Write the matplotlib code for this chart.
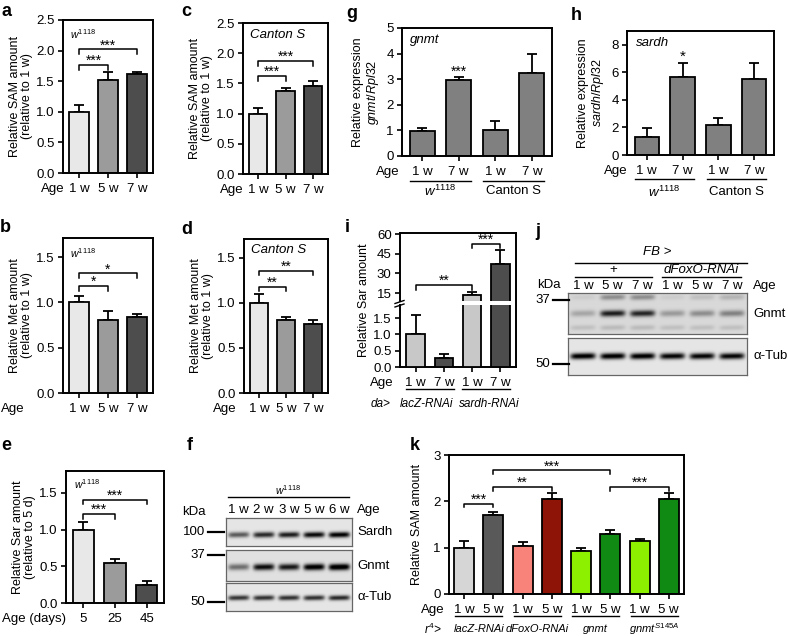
"""
Multi-panel figure: SAM / Met / Sar levels with age, qPCR and western blots
"""
import numpy as np
import matplotlib.pyplot as plt
from matplotlib.lines import Line2D
from matplotlib.ticker import FormatStrFormatter
from matplotlib import transforms

plt.rcParams['font.family'] = ['Liberation Sans', 'DejaVu Sans']
plt.rcParams['mathtext.fontset'] = 'custom'
plt.rcParams['mathtext.rm'] = 'Liberation Sans'
plt.rcParams['mathtext.it'] = 'Liberation Sans:italic'
plt.rcParams['mathtext.bf'] = 'Liberation Sans:bold'
plt.rcParams['font.size'] = 9
plt.rcParams['axes.linewidth'] = 1.4

# ---- data ----
age3 = ['1 w', '5 w', '7 w']
a_sam = [1.0, 1.52, 1.61]
a_err = [0.11, 0.13, 0.04]
c_sam = [1.0, 1.38, 1.46]
c_err = [0.10, 0.05, 0.08]
b_met = [1.0, 0.81, 0.84]
b_err = [0.07, 0.10, 0.03]
d_met = [1.0, 0.81, 0.77]
d_err = [0.10, 0.03, 0.04]
e_days = ['5', '25', '45']
e_sar = [1.0, 0.54, 0.25]
e_err = [0.10, 0.06, 0.05]

age4 = ['1 w', '7 w', '1 w', '7 w']
strains = [r'$w^{1118}$', 'Canton S']
g_gnmt = [0.98, 2.95, 1.0, 3.25]
g_err = [0.12, 0.13, 0.37, 0.72]
h_sardh = [1.28, 5.63, 2.17, 5.48]
h_err = [0.68, 1.07, 0.50, 1.20]

i_groups = ['lacZ-RNAi', 'sardh-RNAi']
i_sar = [1.02, 0.27, 13.5, 37.0]
i_err = [0.57, 0.13, 2.0, 10.5]

k_age = ['1 w', '5 w'] * 4
k_groups = ['lacZ-RNAi', 'dFoxO-RNAi', 'gnmt', r'$\mathit{gnmt}^{\mathit{S145A}}$']
k_sam = [1.0, 1.70, 1.03, 2.04, 0.93, 1.30, 1.14, 2.04]
k_err = [0.15, 0.06, 0.09, 0.13, 0.06, 0.08, 0.05, 0.13]
k_colors = ['#d6d6d6', '#595959', '#f7837a', '#8e1408', '#8cf000', '#108a12', '#8cf000', '#108a12']

# western blots (band intensity per lane)
f_lanes = ['1 w', '2 w', '3 w', '5 w', '6 w']
f_sardh = [0.55, 0.75, 0.8, 0.88, 0.92]
f_gnmt = [0.45, 0.85, 0.8, 0.95, 1.0]
f_tub = [0.7, 0.72, 0.72, 0.72, 0.75]
j_lanes = ['1 w', '5 w', '7 w', '1 w', '5 w', '7 w']
j_gnmt = [0.2, 0.75, 0.72, 0.25, 0.3, 0.35]
j_gnmt_upper = [0.05, 0.3, 0.3, 0.05, 0.1, 0.15]
j_gnmt_lower = [0.1, 0.12, 0.12, 0.1, 0.1, 0.1]
j_tub = [0.95, 0.95, 0.95, 0.9, 0.9, 0.9]

light, mid, dark = '#e8e8e8', '#9b9b9b', '#4d4d4d'

W, H = 788, 636
fig = plt.figure(figsize=(W / 100, H / 100), dpi=100)
TL, TP = 3.5, 3.5  # tick length / pad (points)
FS = 9.5           # tick label size


def px_axes(l, t, r, b):
    return fig.add_axes([l / W, 1 - b / H, (r - l) / W, (b - t) / H])


def ftext(x, y, s, **kw):
    kw.setdefault('fontsize', FS)
    return fig.text(x / W, 1 - y / H, s, **kw)


def fline(x1, x2, y, lw=1.0, color='k'):
    fig.add_artist(Line2D([x1 / W, x2 / W], [1 - y / H, 1 - y / H], color=color, lw=lw))


def style_axes(ax):
    ax.tick_params(direction='out', length=TL, width=1.2, pad=TP, labelsize=FS)
    ax.tick_params(axis='y', pad=2.5)


def age_text(ax, x_px, s, ha='right'):
    # aligned with the x tick labels of ax
    trans = transforms.blended_transform_factory(fig.transFigure, ax.transAxes)
    trans = transforms.offset_copy(trans, fig=fig, y=-(TL + TP), units='points')
    ax.text(x_px / W, 0, s, transform=trans, ha=ha, va='top', fontsize=FS, clip_on=False)


def bars(ax, vals, errs, colors, width=0.68):
    x = np.arange(1, len(vals) + 1)
    ax.bar(x, vals, width=width, color=colors, edgecolor='k', linewidth=1.3, zorder=2)
    ax.errorbar(x, vals, yerr=[np.zeros(len(vals)), errs], fmt='none', ecolor='k',
                elinewidth=1.3, capsize=3.5, capthick=1.3, zorder=1)
    return x


def bar_panel(rect, vals, errs, colors, ylim, yticks, fmt='%.1f', xlabels=None, xpad=0.55):
    ax = px_axes(*rect)
    x = bars(ax, vals, errs, colors)
    ax.set_xlim(1 - xpad, len(vals) + xpad)
    ax.set_ylim(*ylim)
    ax.set_yticks(yticks)
    ax.yaxis.set_major_formatter(FormatStrFormatter(fmt))
    ax.set_xticks(x)
    ax.set_xticklabels(xlabels)
    style_axes(ax)
    return ax


def ylab(ax, s, pad=2):
    ax.set_ylabel(s, labelpad=pad, fontsize=9, linespacing=1.05)


def bracket(ax, x1, x2, y, h, s, fs=10):
    ax.plot([x1, x1, x2, x2], [y - h, y, y, y - h], color='k', lw=1.1, clip_on=False)
    ax.text((x1 + x2) / 2, y, s, ha='center', va='baseline', fontsize=fs)


def group_lines(ax, pairs, y_px, labels, ly_px, rect, span=0.33, fs=FS, style='normal', shifts=None):
    h = rect[3] - rect[1]
    tr = ax.get_xaxis_transform()
    shifts = shifts or [0] * len(pairs)
    for (x1, x2), lab, sh in zip(pairs, labels, shifts):
        ax.plot([x1 - span, x2 + span], [-(y_px - rect[3]) / h] * 2, color='k', lw=1.0,
                transform=tr, clip_on=False)
        ax.text((x1 + x2) / 2 + sh, -(ly_px - rect[3]) / h, lab, transform=tr, ha='center',
                va='center', fontsize=fs, style=style, clip_on=False)


def blot(rect, bands, bg=0.9):
    l, t, r, b = rect
    ax = px_axes(l, t, r, b)
    w, h = r - l, b - t
    X, Y = np.meshgrid(np.linspace(0, w, w * 3), np.linspace(0, h, h * 3))
    img = np.full(X.shape, bg)
    for frac, sig, vals in bands:
        step = w / len(vals)
        for i, v in enumerate(vals):
            cx = step * (i + 0.5)
            prof = np.exp(-((X - cx) / (step * 0.42)) ** 6)
            img -= v * prof * np.exp(-0.5 * ((Y - frac * h + 0.02 * (X - cx)) / sig) ** 2)
    ax.imshow(np.clip(img, 0, 1), cmap='gray', vmin=0, vmax=1, aspect='auto',
              extent=(0, w, h, 0), interpolation='bilinear')
    ax.set_xticks([])
    ax.set_yticks([])
    for s in ax.spines.values():
        s.set_color('#666666')
        s.set_linewidth(0.9)
    return ax


def marker(x_right, y, s):
    ftext(x_right - 3, y, s, ha='right', va='center')
    fline(x_right, x_right + 16, y, lw=1.6)


# ---- panel a ----
rect = (63, 20, 153, 173)
ax = bar_panel(rect, a_sam, a_err, [light, mid, dark], (0, 2.5), np.arange(0, 2.6, 0.5), xlabels=age3)
ylab(ax, 'Relative SAM amount\n(relative to 1 w)')
ax.text(0.08, 0.95, r'$w^{1118}$', transform=ax.transAxes, fontsize=7.5, va='top')
bracket(ax, 1, 2, 1.77, 0.08, '***')
bracket(ax, 1, 3, 2.02, 0.08, '***')
age_text(ax, 65, 'Age')

# ---- panel c ----
rect = (243, 23, 328, 174)
ax = bar_panel(rect, c_sam, c_err, [light, mid, dark], (0, 2.5), np.arange(0, 2.6, 0.5), xlabels=age3)
ylab(ax, 'Relative SAM amount\n(relative to 1 w)')
ax.text(0.08, 0.96, 'Canton S', transform=ax.transAxes, fontsize=9.5, style='italic', va='top')
bracket(ax, 1, 2, 1.62, 0.08, '***')
bracket(ax, 1, 3, 1.87, 0.08, '***')
age_text(ax, 244, 'Age')

# ---- panel b ----
rect = (63, 238, 153, 393)
ax = bar_panel(rect, b_met, b_err, [light, mid, dark], (0, 1.71), [0, 0.5, 1.0, 1.5], xlabels=age3)
ylab(ax, 'Relative Met amount\n(relative to 1 w)')
ax.text(0.08, 0.95, r'$w^{1118}$', transform=ax.transAxes, fontsize=7.5, va='top')
bracket(ax, 1, 2, 1.18, 0.05, '*')
bracket(ax, 1, 3, 1.32, 0.05, '*')
age_text(ax, 1, 'Age', ha='left')

# ---- panel d ----
rect = (244, 239, 328, 393)
ax = bar_panel(rect, d_met, d_err, [light, mid, dark], (0, 1.71), [0, 0.5, 1.0, 1.5], xlabels=age3)
ylab(ax, 'Relative Met amount\n(relative to 1 w)')
ax.text(0.08, 0.97, 'Canton S', transform=ax.transAxes, fontsize=9.5, style='italic', va='top')
bracket(ax, 1, 2, 1.18, 0.05, '**')
bracket(ax, 1, 3, 1.36, 0.05, '**')
age_text(ax, 237, 'Age')

# ---- panel e ----
rect = (66, 471, 164, 603)
ax = bar_panel(rect, e_sar, e_err, [light, mid, dark], (0, 1.8), [0, 0.5, 1.0, 1.5], xlabels=e_days)
ylab(ax, 'Relative Sar amount\n(relative to 5 d)')
ax.text(0.08, 0.95, r'$w^{1118}$', transform=ax.transAxes, fontsize=7.5, va='top')
bracket(ax, 1, 2, 1.21, 0.06, '***')
bracket(ax, 1, 3, 1.41, 0.06, '***')
age_text(ax, 2, 'Age (days)', ha='left')

# ---- panel g ----
rect = (402, 28, 552, 156)
ax = bar_panel(rect, g_gnmt, g_err, ['#808080'] * 4, (0, 5), range(6), fmt='%d', xlabels=age4)
ylab(ax, 'Relative expression\n' + r'$\mathit{gnmt/Rpl32}$', pad=4)
ax.text(0.05, 0.95, 'gnmt', transform=ax.transAxes, fontsize=9.5, style='italic', va='top')
ax.text(2, 3.15, '***', ha='center', va='baseline', fontsize=10)
group_lines(ax, [(1, 2), (3, 4)], 181, strains, 191, rect)
age_text(ax, 400, 'Age')

# ---- panel h ----
rect = (627, 31, 774, 155)
ax = bar_panel(rect, h_sardh, h_err, ['#808080'] * 4, (0, 9), [0, 2, 4, 6, 8], fmt='%d', xlabels=age4)
ylab(ax, 'Relative expression\n' + r'$\mathit{sardh/Rpl32}$', pad=4)
ax.text(0.06, 0.95, 'sardh', transform=ax.transAxes, fontsize=9.5, style='italic', va='top')
ax.text(2, 6.85, '*', ha='center', va='baseline', fontsize=11)
group_lines(ax, [(1, 2), (3, 4)], 179, strains, 192, rect)
age_text(ax, 628, 'Age')

# ---- panel i (broken axis) ----
rect = (400, 233, 516, 367)
frame = px_axes(*rect)
frame.set_xticks([])
frame.set_yticks([])
frame.spines['left'].set_visible(False)
frame.patch.set_alpha(0)
i_cols = ['#c8c8c8', dark, '#c8c8c8', dark]
lo = px_axes(400, 305, 516, 367)
up = px_axes(400, 233, 516, 301)
for sub in (lo, up):
    bars(sub, i_sar, i_err, i_cols, width=0.66)
    sub.set_xlim(0.45, 4.55)
    sub.patch.set_alpha(0)
    for side in ('top', 'right', 'bottom'):
        sub.spines[side].set_visible(False)
    style_axes(sub)
lo.set_ylim(0, 1.9)
lo.set_yticks([0, 0.5, 1.0, 1.5])
lo.yaxis.set_major_formatter(FormatStrFormatter('%.1f'))
lo.set_xticks([1, 2, 3, 4])
lo.set_xticklabels(age4)
up.set_ylim(9, 60.8)
up.set_yticks([15, 30, 45, 60])
up.set_xticks([])
for yy in (302.0, 305.5):
    fig.add_artist(Line2D([395 / W, 404 / W], [1 - (yy + 1.5) / H, 1 - (yy - 1.5) / H], color='k', lw=1.0))
bracket(up, 1, 3, 21, 3.5, '**')
bracket(up, 3, 4, 52.5, 3.0, '***')
ftext(364, 300, 'Relative Sar amount', rotation=90, ha='center', va='center', fontsize=9)
group_lines(lo, [(1, 2), (3, 4)], 389, i_groups, 404, (400, 305, 516, 367), span=0.35,
            fs=8.5, style='italic', shifts=[-0.12, 0.1])
age_text(lo, 394, 'Age')
ftext(371, 404, 'da>', style='italic', ha='left', va='center', fontsize=8.5)

# ---- panel k ----
rect = (449, 455, 684, 594)
ax = bar_panel(rect, k_sam, k_err, k_colors, (0, 3), [0, 1, 2, 3], fmt='%d', xlabels=k_age, xpad=0.52)
ylab(ax, 'Relative SAM amount', pad=7)
bracket(ax, 1, 2, 1.95, 0.08, '***')
bracket(ax, 2, 4, 2.31, 0.09, '**')
bracket(ax, 2, 6, 2.67, 0.09, '***')
bracket(ax, 6, 8, 2.31, 0.09, '***')
group_lines(ax, [(1, 2), (3, 4), (5, 6), (7, 8)], 616, k_groups, 629, rect, span=0.3,
            fs=8, style='italic')
age_text(ax, 445, 'Age')
ftext(424, 629, r'$r^{4}$>', style='italic', ha='left', va='center', fontsize=8.5)

# ---- panel f (blot) ----
fl, fr = 226, 352
blot((fl, 518, fr, 546), [(0.6, 2.0, f_sardh)], bg=0.9)
blot((fl, 550, fr, 581), [(0.55, 2.3, f_gnmt)], bg=0.88)
blot((fl, 583, fr, 611), [(0.53, 1.8, f_tub)], bg=0.9)
step = (fr - fl) / len(f_lanes)
for i, lab in enumerate(f_lanes):
    ftext(fl + step * (i + 0.5), 510, lab, ha='center', va='center')
ftext(357, 510, 'Age', ha='left', va='center')
ftext(194, 512, 'kDa', ha='center', va='center')
fline(228, 349, 497)
ftext(288, 490, r'$w^{1118}$', ha='center', va='center', fontsize=7.5)
marker(208, 532, '100')
marker(208, 555, '37')
marker(208, 602, '50')
ftext(357, 532, 'Sardh', ha='left', va='center')
ftext(357, 566, 'Gnmt', ha='left', va='center')
ftext(357, 597, 'α-Tub', ha='left', va='center')

# ---- panel j (blot) ----
jl, jr = 568, 747
blot((jl, 293, jr, 334), [(0.51, 2.2, j_gnmt), (0.12, 2.0, j_gnmt_upper), (0.85, 1.8, j_gnmt_lower)], bg=0.85)
blot((jl, 338, jr, 375), [(0.49, 2.2, j_tub)], bg=0.9)
step = (jr - jl) / len(j_lanes)
for i, lab in enumerate(j_lanes):
    ftext(jl + step * (i + 0.5), 286, lab, ha='center', va='center')
ftext(753, 286, 'Age', ha='left', va='center')
ftext(549, 285, 'kDa', ha='center', va='center')
marker(553, 300, '37')
marker(553, 364, '50')
fline(575, 747, 263)
ftext(657, 252, 'FB >', style='italic', ha='center', va='center')
fline(575, 652, 277)
fline(662, 741, 277)
ftext(613, 270, '+', ha='center', va='center')
ftext(701, 270, 'dFoxO-RNAi', style='italic', ha='center', va='center')
ftext(753, 314, 'Gnmt', ha='left', va='center')
ftext(753, 356, 'α-Tub', ha='left', va='center')

# ---- panel letters ----
for lab, x, y in [('a', 2, 12), ('c', 181, 12), ('g', 346, 13), ('h', 571, 15),
                  ('b', 0, 228), ('d', 181, 230), ('i', 345, 228), ('j', 535, 232),
                  ('e', 1, 446), ('f', 187, 446), ('k', 410, 445)]:
    ftext(x, y, lab, fontsize=13, fontweight='bold', ha='left', va='center')

fig.savefig('out.png', dpi=100)
